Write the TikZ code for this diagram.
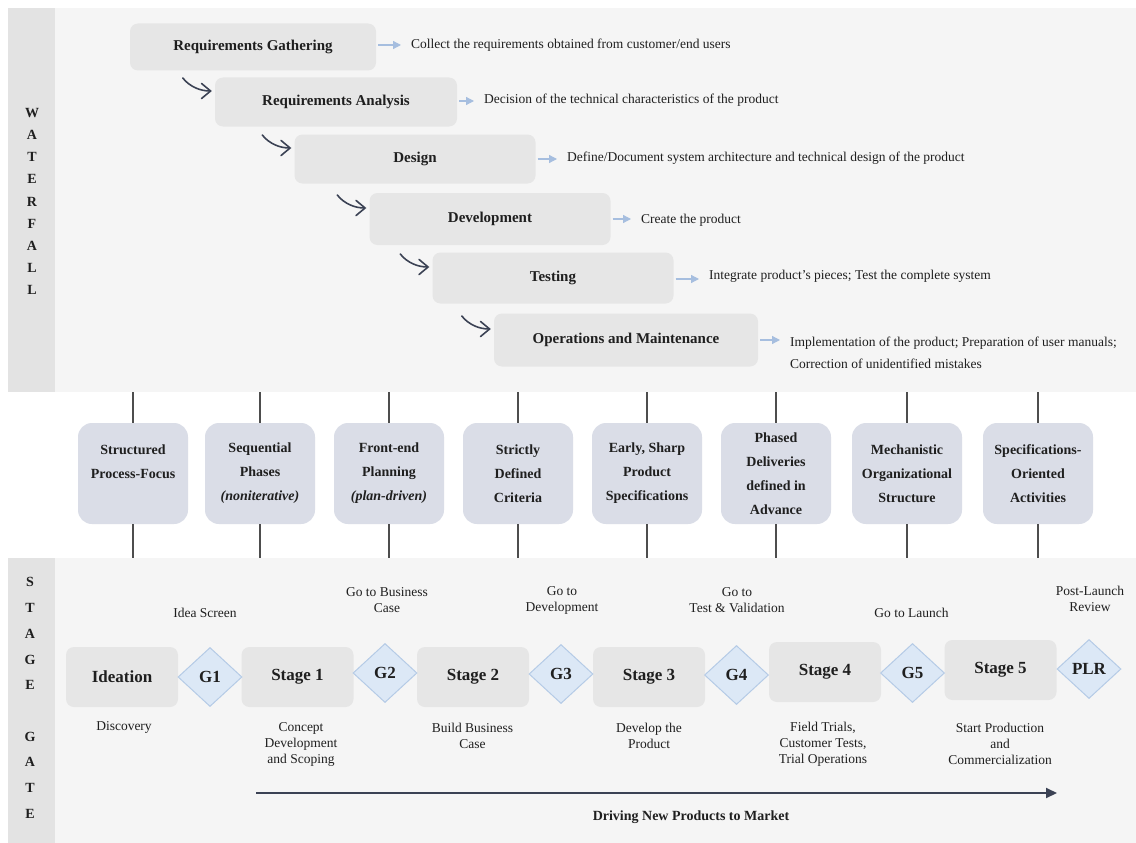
\documentclass[tikz,border=0pt]{standalone}
\usepackage{fontspec}
\setmainfont{Liberation Serif}
\usetikzlibrary{shapes.geometric,arrows.meta,calc}
\definecolor{panelbg}{HTML}{F5F5F5}
\definecolor{sidecol}{HTML}{E3E3E3}
\definecolor{boxgray}{HTML}{E6E6E6}
\definecolor{midbox}{HTML}{DADDE7}
\definecolor{diafill}{HTML}{DCE8F6}
\definecolor{diadraw}{HTML}{B5CBE6}
\definecolor{sidearr}{HTML}{A6BEDF}
\definecolor{darkarr}{HTML}{3B4254}
\definecolor{vlinec}{HTML}{4D4D4D}
\definecolor{textc}{HTML}{1F1F1F}
\begin{document}
\begin{tikzpicture}[x=1pt,y=-1pt,
  every node/.style={text=textc},
  wfbox/.style={fill=boxgray, rounded corners=8pt, inner sep=0pt,
    font=\fontsize{15}{18}\selectfont\bfseries},
  sidetext/.style={anchor=west, inner sep=0pt, align=left,
    font=\fontsize{13.5}{22}\selectfont},
  sidearrow/.style={draw=sidearr, line width=1.2pt, -{Triangle[length=8pt,width=8pt]},
    shorten <=2pt, shorten >=10pt},
  curvarrow/.style={draw=darkarr, line width=1.6pt, line cap=round,
    -{Straight Barb[length=9pt,width=15pt,line cap=round]}},
  midnode/.style={fill=midbox, rounded corners=14pt, minimum width=110pt,
    minimum height=101pt, inner sep=0pt, align=center,
    font=\fontsize{14}{24}\selectfont\bfseries},
  vline/.style={draw=vlinec, line width=1.5pt},
  stagebox/.style={fill=boxgray, rounded corners=8pt, minimum width=112pt,
    minimum height=60pt, inner sep=0pt, font=\fontsize{17}{20}\selectfont\bfseries},
  gate/.style={diamond, fill=diafill, draw=diadraw, line width=1pt, aspect=1.08,
    minimum width=64pt, minimum height=59pt, inner sep=0pt,
    font=\fontsize{17}{20}\selectfont\bfseries},
  sglabel/.style={align=center, inner sep=0pt, font=\fontsize{13.5}{16}\selectfont},
  vletters/.style={align=center, inner sep=0pt}
]
\useasboundingbox (0,0) rectangle (1136,843);
\fill[white] (0,0) rectangle (1136,843);
% panels
\fill[panelbg] (8,8) rectangle (1136,392);
\fill[panelbg] (8,558) rectangle (1136,843);
\fill[sidecol] (8,8) rectangle (55,392);
\fill[sidecol] (8,558) rectangle (55,843);

\node[vletters, font=\fontsize{14}{22.1}\selectfont\bfseries] (wflabel) at (32,201.5)
  {W\\A\\T\\E\\R\\F\\A\\L\\L};
\node[vletters, font=\fontsize{14}{25.7}\selectfont\bfseries] (sglbl) at (30,698)
  {S\\T\\A\\G\\E\\\mbox{}\\G\\A\\T\\E};

% waterfall boxes
\node[wfbox, minimum width=246pt, minimum height=47pt] (rg) at (253,47) {Requirements Gathering};
\node[wfbox, minimum width=242pt, minimum height=49pt] (ra) at (336,102) {Requirements Analysis};
\node[wfbox, minimum width=241pt, minimum height=49pt] (ds) at (415,159) {Design};
\node[wfbox, minimum width=241pt, minimum height=52pt] (dv) at (490,219) {Development};
\node[wfbox, minimum width=241pt, minimum height=51pt] (ts) at (553,278) {Testing};
\node[wfbox, minimum width=264pt, minimum height=53pt] (om) at (626,340) {Operations and Maintenance};

% side texts
\node[sidetext] (rgt) at (411,45) {Collect the requirements obtained from customer/end users};
\node[sidetext] (rat) at (484,100) {Decision of the technical characteristics of the product};
\node[sidetext] (dst) at (567,158) {Define/Document system architecture and technical design of the product};
\node[sidetext] (dvt) at (641,220) {Create the product};
\node[sidetext] (tst) at (709,276) {Integrate product's pieces; Test the complete system};
\node[sidetext] (omt) at (790,353) {Implementation of the product; Preparation of user manuals;\\Correction of unidentified mistakes};

\draw[sidearrow] ([yshift=2pt]rg.east) -- ([yshift=2pt]rg.east -| rgt.west);
\draw[sidearrow] ([yshift=1pt]ra.east) -- ([yshift=1pt]ra.east -| rat.west);
\draw[sidearrow] (ds.east) -- (ds.east -| dst.west);
\draw[sidearrow] (dv.east) -- (dv.east -| dvt.west);
\draw[sidearrow] ([yshift=-1pt]ts.east) -- ([yshift=-1pt]ts.east -| tst.west);
\draw[sidearrow] (om.east) -- (om.east -| omt.west);

% curved arrows
\foreach \nb [count=\i] in {ra,ds,dv,ts,om}{
  \coordinate (ce\i) at ($(\nb.west)+(-3,-11)$);
  \coordinate (cs\i) at ($(ce\i)+(-29,-13)$);
  \coordinate (ca\i) at ($(cs\i)+(7,9)$);
  \coordinate (cb\i) at ($(ce\i)+(-11,0)$);
  \draw[curvarrow] (cs\i) .. controls (ca\i) and (cb\i) .. (ce\i);
}

% middle characteristics
\node[midnode] (m1) at (133,473.5) {Structured\\Process-Focus\\\mbox{}};
\node[midnode] (m2) at (260,473.5) {Sequential\\Phases\\\textit{(noniterative)}};
\node[midnode] (m3) at (389,473.5) {Front-end\\Planning\\\textit{(plan-driven)}};
\node[midnode] (m4) at (518,473.5) {Strictly\\Defined\\Criteria};
\node[midnode] (m5) at (647,473.5) {Early, Sharp\\Product\\Specifications};
\node[midnode] (m6) at (776,473.5) {Phased\\Deliveries\\defined in\\Advance};
\node[midnode] (m7) at (907,473.5) {Mechanistic\\Organizational\\Structure};
\node[midnode] (m8) at (1038,473.5) {Specifications-\\Oriented\\Activities};
\foreach \m/\x in {m1/133,m2/260,m3/389,m4/518,m5/647,m6/776,m7/907,m8/1038}{
  \coordinate (\m a) at (\x,392);
  \coordinate (\m b) at (\x,558);
  \draw[vline] (\m a) -- (\m.north);
  \draw[vline] (\m.south) -- (\m b);
}

% stage gate
\node[stagebox] (id) at (122,677) {Ideation};
\node[stagebox] (s1) at (297.5,677) {Stage 1};
\node[stagebox] (s2) at (473,677) {Stage 2};
\node[stagebox] (s3) at (649,677) {Stage 3};
\node[stagebox] (s4) at (825,672) {Stage 4};
\node[stagebox] (s5) at (1000.5,670) {Stage 5};
\node[gate] (g1) at (210,677) {G1};
\node[gate] (g2) at (385,673) {G2};
\node[gate] (g3) at (561,674) {G3};
\node[gate] (g4) at (736.5,675) {G4};
\node[gate] (g5) at (912.5,673) {G5};
\node[gate] (plr) at (1089,669) {PLR};

% labels above gates
\node[sglabel] (l1) at (205,613) {Idea Screen};
\node[sglabel] (l2) at (387,600) {Go to Business\\Case};
\node[sglabel] (l3) at (562,600) {Go to\\Development};
\node[sglabel] (l4) at (737,600) {Go to\\Test \& Validation};
\node[sglabel] (l5) at (911.5,613) {Go to Launch};
\node[sglabel] (l6) at (1090,599) {Post-Launch\\Review};

% labels below stages
\node[sglabel] (b0) at (124,727) {Discovery};
\node[sglabel] (b1) at (301,744) {Concept\\Development\\and Scoping};
\node[sglabel] (b2) at (472.5,736) {Build Business\\Case};
\node[sglabel] (b3) at (649,736) {Develop the\\Product};
\node[sglabel] (b4) at (823,744) {Field Trials,\\Customer Tests,\\Trial Operations};
\node[sglabel] (b5) at (1000,744) {Start Production\\and\\Commercialization};

% driving arrow
\coordinate (drs) at (256,793);
\coordinate (dre) at (1057,793);
\draw[draw=darkarr, line width=2pt, -{Triangle[length=11pt,width=10pt]}] (drs) -- (dre);
\node[inner sep=0pt, font=\fontsize{14}{16}\selectfont\bfseries] (drv) at (691,817) {Driving New Products to Market};
\end{tikzpicture}
\end{document}
